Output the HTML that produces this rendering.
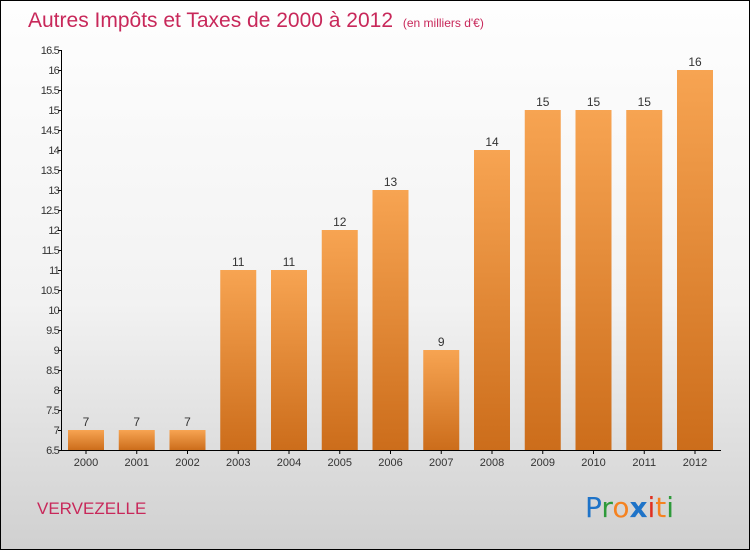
<!DOCTYPE html>
<html><head><meta charset="utf-8"><style>
body{margin:0}
#c{width:748px;height:548px;border:1px solid #000;background:linear-gradient(#fefefe 0%,#f2f2f2 55%,#d0d0d0 100%);position:relative;font-family:"Liberation Sans",sans-serif}
</style></head><body>
<div id="c">
<svg width="748" height="548">
<defs><linearGradient id="bg" x1="0" y1="0" x2="0" y2="1"><stop offset="0" stop-color="#f7a452"/><stop offset="1" stop-color="#cc6d1b"/></linearGradient></defs>
<text x="27" y="26" font-size="21" fill="#c8285a">Autres Impôts et Taxes de 2000 à 2012 <tspan font-size="12" dx="4">(en milliers d'€)</tspan></text>
<g id="plot"></g>
<text x="36" y="513" font-size="17" fill="#c8285a">VERVEZELLE</text>
<g font-size="28" font-family="'DejaVu Sans',sans-serif">
<text x="584" y="516"><tspan fill="#1e73c8">P</tspan><tspan fill="#2e9a3a">r</tspan><tspan fill="#f58220">o</tspan><tspan fill="#1e73c8" font-weight="bold">x</tspan><tspan fill="#e03020">i</tspan><tspan fill="#f58220">t</tspan><tspan fill="#2e9a3a">i</tspan></text></g>
</svg></div>
<script>
const categories=["2000","2001","2002","2003","2004","2005","2006","2007","2008","2009","2010","2011","2012"];
const values=[7,7,7,11,11,12,13,9,14,15,15,15,16];
const yTicks=[6.5,7,7.5,8,8.5,9,9.5,10,10.5,11,11.5,12,12.5,13,13.5,14,14.5,15,15.5,16,16.5];
const yMin=6.5,yMax=16.5;
const ns="http://www.w3.org/2000/svg";
const g=document.getElementById('plot');
const y=v=>449-(v-yMin)/(yMax-yMin)*400;
const x=i=>85+i*50.75;
function el(t,a){const e=document.createElementNS(ns,t);for(const k in a)e.setAttribute(k,a[k]);g.appendChild(e);return e;}
const ax=el('line',{x1:60.5,y1:49,x2:60.5,y2:449,stroke:'#000'});


const bx=el('line',{x1:60,y1:449.5,x2:720,y2:449.5,stroke:'#000'});


yTicks.forEach(t=>{
  el('line',{x1:57,x2:61,y1:y(t)+.5,y2:y(t)+.5,stroke:'#000'});
  const tx=el('text',{x:58,y:y(t)+4,'font-size':11,'text-anchor':'end',fill:'#333','letter-spacing':'-0.8'});
  tx.textContent=String(t);
  
  
});
values.forEach((v,i)=>{
  const r=el('rect',{x:x(i)-18,y:y(v),width:36,height:449-y(v),fill:'url(#bg)'});
  
  
  const lt=el('text',{x:x(i),y:y(v)-4,'font-size':12,'text-anchor':'middle',fill:'#333'});
  lt.textContent=v;
  
  
  el('line',{x1:x(i),x2:x(i),y1:449,y2:453,stroke:'#000'});
  const ct=el('text',{x:x(i),y:465,'font-size':11,'text-anchor':'middle',fill:'#333'});
  ct.textContent=categories[i];
  
  
});
</script>
</body></html>
